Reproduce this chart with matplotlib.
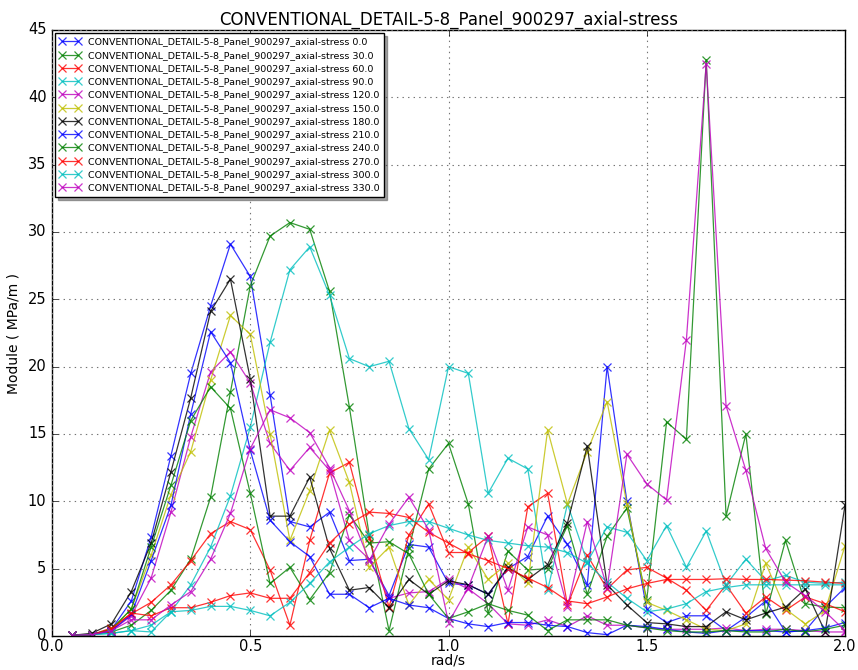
import matplotlib
matplotlib.use("Agg")
import matplotlib.pyplot as plt
import numpy as np

plt.style.use("classic")

freq = [0.05, 0.10, 0.15, 0.20, 0.25, 0.30, 0.35, 0.40, 0.45, 0.50,
        0.55, 0.60, 0.65, 0.70, 0.75, 0.80, 0.85, 0.90, 0.95, 1.00,
        1.05, 1.10, 1.15, 1.20, 1.25, 1.30, 1.35, 1.40, 1.45, 1.50,
        1.55, 1.60, 1.65, 1.70, 1.75, 1.80, 1.85, 1.90, 1.95, 2.00]

s_000 = [0.05, 0.1, 0.5, 2.6, 7.35, 13.4, 19.5, 24.5, 29.1, 26.7,
         17.9, 8.5, 8.1, 9.2, 5.6, 5.7, 3.0, 6.8, 6.6, 3.9,
         3.8, 3.1, 5.0, 5.9, 8.9, 6.8, 3.8, 20.0, 10.0, 2.0,
         1.0, 1.5, 1.5, 0.4, 1.4, 2.6, 0.3, 0.4, 2.15, 3.6]
s_030 = [0.05, 0.1, 0.3, 0.8, 1.9, 3.4, 5.7, 10.3, 18.1, 26.0,
         29.7, 30.7, 30.2, 25.6, 17.0, 7.5, 0.4, 6.5, 12.4, 14.3,
         9.8, 1.7, 6.3, 4.9, 5.0, 8.2, 3.1, 7.4, 9.5, 2.7,
         15.9, 14.6, 42.8, 8.9, 15.0, 1.6, 7.1, 2.4, 2.15, 2.1]
s_060 = [0.05, 0.1, 0.6, 1.65, 2.5, 3.8, 5.6, 7.6, 8.5, 7.9,
         4.9, 0.8, 7.1, 12.1, 12.9, 7.3, 2.15, 7.5, 9.8, 6.2,
         6.2, 7.4, 0.9, 9.6, 10.6, 2.3, 6.0, 3.5, 4.9, 5.1,
         4.3, 3.4, 1.9, 3.8, 1.7, 2.9, 1.9, 2.9, 2.4, 1.8]
s_090 = [0.05, 0.1, 0.2, 0.4, 0.8, 1.8, 3.8, 6.6, 10.4, 15.5,
         21.8, 27.2, 28.9, 25.3, 20.6, 20.0, 20.4, 15.4, 13.1, 20.0,
         19.5, 10.6, 13.2, 12.4, 3.4, 9.8, 5.5, 8.1, 7.7, 5.6,
         8.2, 5.1, 7.8, 3.8, 5.7, 4.1, 4.5, 4.0, 3.9, 4.0]
s_120 = [0.05, 0.1, 0.4, 1.5, 4.3, 9.2, 14.8, 19.6, 21.1, 18.8,
         14.3, 12.3, 14.0, 12.3, 7.1, 5.7, 2.8, 3.2, 3.3, 4.2,
         3.5, 2.4, 0.9, 0.8, 1.2, 0.7, 1.5, 0.8, 0.8, 0.6,
         0.5, 0.5, 0.5, 0.6, 0.4, 0.5, 0.5, 0.4, 0.3, 0.3]
s_150 = [0.05, 0.1, 0.5, 2.0, 6.0, 10.5, 13.7, 19.0, 23.8, 22.4,
         15.0, 7.1, 10.8, 15.3, 11.4, 5.1, 6.6, 2.3, 4.2, 2.7,
         6.6, 4.2, 5.4, 3.9, 15.3, 9.8, 13.7, 17.4, 9.8, 2.5,
         1.9, 1.2, 0.5, 0.4, 0.9, 5.4, 2.0, 0.9, 1.9, 6.7]
s_180 = [0.05, 0.2, 0.9, 3.3, 6.9, 12.2, 17.7, 24.1, 26.5, 19.1,
         8.9, 8.9, 11.8, 6.5, 3.4, 3.6, 2.1, 4.2, 3.1, 4.1,
         3.8, 3.1, 5.1, 4.2, 5.3, 8.4, 14.1, 3.8, 2.3, 1.0,
         0.9, 0.7, 0.7, 1.8, 1.2, 1.7, 2.15, 3.5, 0.3, 9.7]
s_210 = [0.05, 0.1, 0.4, 1.6, 5.6, 9.7, 16.5, 22.6, 20.3, 13.8,
         8.6, 7.0, 5.9, 3.1, 3.1, 2.1, 2.8, 2.3, 2.1, 1.3,
         0.9, 0.7, 1.0, 1.0, 0.8, 0.7, 0.25, 0.1, 0.8, 0.7,
         0.5, 0.3, 0.2, 0.4, 0.4, 0.4, 0.3, 0.4, 0.6, 1.0]
s_240 = [0.05, 0.1, 0.5, 2.0, 6.6, 11.2, 16.0, 18.5, 16.9, 10.6,
         3.9, 5.1, 2.7, 4.7, 9.0, 6.9, 7.0, 6.1, 3.1, 1.3,
         1.8, 2.4, 1.9, 1.55, 0.4, 1.2, 1.2, 1.2, 0.8, 0.6,
         0.4, 0.3, 0.3, 0.4, 0.3, 0.3, 0.5, 0.3, 0.5, 0.8]
s_270 = [0.05, 0.1, 0.5, 1.7, 1.5, 2.1, 2.1, 2.5, 3.0, 3.2,
         2.8, 2.8, 4.7, 6.9, 8.3, 9.2, 9.1, 8.8, 7.7, 6.9,
         6.1, 5.6, 5.0, 4.3, 3.6, 2.6, 2.4, 2.9, 3.5, 3.9,
         4.2, 4.2, 4.2, 4.25, 4.2, 4.2, 4.15, 4.1, 4.0, 3.9]
s_300 = [0.05, 0.1, 0.2, 0.4, 0.3, 1.8, 1.9, 2.2, 2.2, 1.9,
         1.5, 2.5, 3.9, 5.5, 6.6, 7.6, 8.2, 8.5, 8.5, 8.0,
         7.5, 7.1, 6.9, 6.7, 6.6, 6.2, 5.4, 4.0, 2.8, 1.8,
         2.0, 2.4, 3.3, 3.6, 3.8, 3.8, 3.8, 3.8, 3.8, 3.8]
s_330 = [0.05, 0.1, 0.4, 1.2, 1.2, 2.3, 3.3, 5.7, 9.1, 13.9,
         16.8, 16.2, 15.1, 12.5, 9.3, 5.6, 8.3, 10.3, 7.9, 1.0,
         3.6, 7.4, 3.4, 8.1, 7.5, 2.15, 8.5, 3.6, 13.5, 11.3,
         10.1, 22.0, 42.5, 17.1, 12.3, 6.5, 4.0, 3.0, 1.8, 0.4]

angles = ["0.0", "30.0", "60.0", "90.0", "120.0", "150.0",
          "180.0", "210.0", "240.0", "270.0", "300.0", "330.0"]
series = [s_000, s_030, s_060, s_090, s_120, s_150,
          s_180, s_210, s_240, s_270, s_300, s_330]
colors = ["b", "g", "r", "c", "m", "y", "k", "b", "g", "r", "c", "m"]

base = "CONVENTIONAL_DETAIL-5-8_Panel_900297_axial-stress"

fig = plt.figure(figsize=(8.58, 6.70), dpi=100, facecolor="white")
ax = fig.add_axes([52 / 858, 1 - 636 / 670, (845 - 52) / 858, (636 - 30) / 670])

for vals, ang, col in zip(series, angles, colors):
    ax.plot(freq, vals, color=col, marker="x", markersize=6, linewidth=0.9,
            markeredgewidth=0.9, alpha=0.8, label=f"{base} {ang}")

ax.set_xlim(0.0, 2.0)
ax.set_ylim(0, 45)
ax.set_xticks([0.0, 0.5, 1.0, 1.5, 2.0])
ax.set_yticks(range(0, 46, 5))
ax.grid(True, linestyle=":", color="0.45", linewidth=0.8)
ax.tick_params(axis="both", labelsize=10.5)
ax.tick_params(axis="x", pad=2)
ax.set_title(base, fontsize=12, pad=4)
ax.set_xlabel("rad/s", fontsize=10, labelpad=0)
ax.set_ylabel("Module ( MPa/m )", fontsize=10)

leg = ax.legend(loc="upper left", fontsize=6.8, shadow=True, numpoints=2,
                handlelength=2.2, borderpad=0.5, labelspacing=0.45,
                fancybox=False, borderaxespad=0.3)
leg.get_frame().set_linewidth(1.0)

fig.savefig("out.png", dpi=100, facecolor="white")
